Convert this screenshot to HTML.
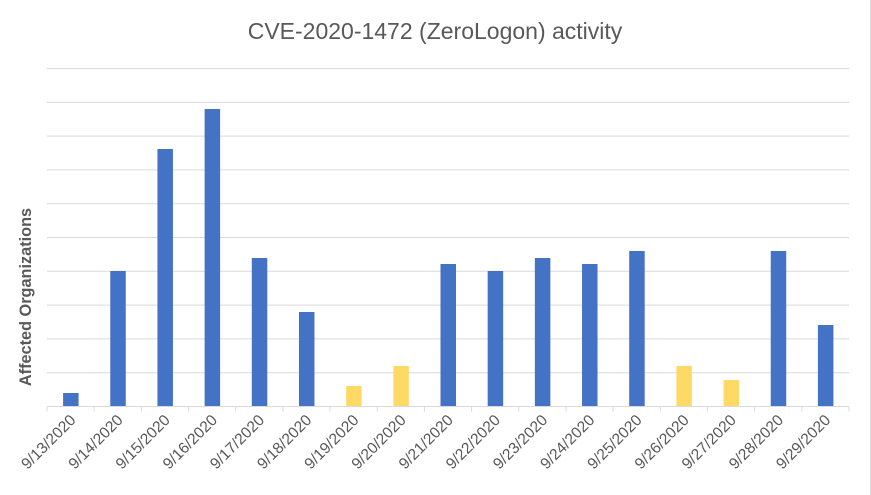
<!DOCTYPE html>
<html><head><meta charset="utf-8"><style>body{margin:0;background:#fff}svg{display:block}</style></head>
<body>
<svg width="871" height="495" xmlns="http://www.w3.org/2000/svg" font-family="Liberation Sans, sans-serif">
<rect x="0" y="0" width="870" height="495" fill="#fff"/>
<line x1="870.5" y1="0" x2="870.5" y2="495" stroke="#d9d9d9"/>
<text x="435" y="39" text-anchor="middle" font-size="23" fill="#595959">CVE-2020-1472 (ZeroLogon) activity</text>
<g stroke="#d9d9d9" stroke-width="1">
<line x1="47" y1="68.5" x2="849" y2="68.5"/><line x1="47" y1="102.3" x2="849" y2="102.3"/>
<line x1="47" y1="136.1" x2="849" y2="136.1"/><line x1="47" y1="169.9" x2="849" y2="169.9"/>
<line x1="47" y1="203.7" x2="849" y2="203.7"/><line x1="47" y1="237.5" x2="849" y2="237.5"/>
<line x1="47" y1="271.3" x2="849" y2="271.3"/><line x1="47" y1="305.1" x2="849" y2="305.1"/>
<line x1="47" y1="338.9" x2="849" y2="338.9"/><line x1="47" y1="372.7" x2="849" y2="372.7"/>
<line x1="47" y1="406.5" x2="849" y2="406.5"/>
</g>
<g id="ticks" stroke="#d9d9d9"></g>
<g id="bars"></g>
<g id="labels" font-size="15.6" fill="#595959"></g>
<text transform="translate(31,297) rotate(-90)" text-anchor="middle" font-size="16.3" font-weight="bold" fill="#595959">Affected Organizations</text>
<script>
var tops=[393,271,149,109,258,312,386,366,264,271,258,264,251,366,380,251,325];
var yellow=[6,7,13,14];
var labels=["9/13/2020","9/14/2020","9/15/2020","9/16/2020","9/17/2020","9/18/2020","9/19/2020","9/20/2020","9/21/2020","9/22/2020","9/23/2020","9/24/2020","9/25/2020","9/26/2020","9/27/2020","9/28/2020","9/29/2020"];
var ns="http://www.w3.org/2000/svg",w=802/17;
function el(t,a,p){var e=document.createElementNS(ns,t);for(var k in a)e.setAttribute(k,a[k]);document.getElementById(p).appendChild(e);return e;}
for(var i=0;i<=17;i++){var x=47+w*i;el("line",{x1:x,y1:406.5,x2:x,y2:411.5},"ticks");}
for(var i=0;i<17;i++){var c=47+w*(i+0.5);
el("rect",{x:c-7.5,y:tops[i],width:15.5,height:406-tops[i],fill:yellow.indexOf(i)>=0?"#ffd966":"#4472c4"},"bars");
var t=el("text",{"text-anchor":"end",transform:"translate("+(c+6)+",421) rotate(-45)"},"labels");t.textContent=labels[i];}
</script>
</svg>
</body></html>
